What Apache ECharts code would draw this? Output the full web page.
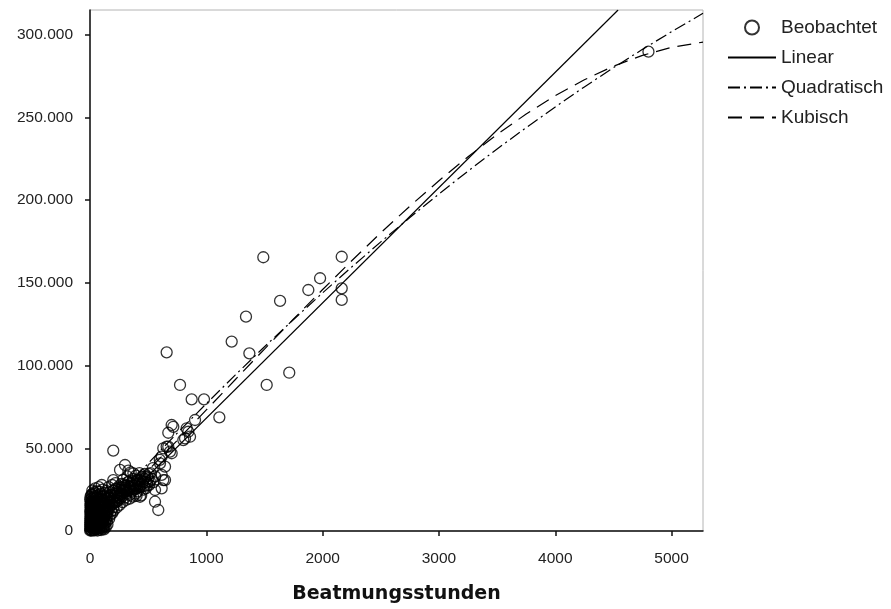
<!DOCTYPE html>
<html>
<head>
<meta charset="utf-8">
<title>Beatmungsstunden</title>
<script src="https://cdn.jsdelivr.net/npm/echarts@6/dist/echarts.min.js"></script>
<style>
  html, body { margin: 0; padding: 0; background: #fff; }
  #chart { width: 891px; height: 609px; }
</style>
</head>
<body>
<div id="chart"></div>
<script>
// Axis ranges and tick positions
const xMax = 5270;
const yMax = 315000;
const xTicks = [0, 1000, 2000, 3000, 4000, 5000];
const yTicks = [0, 50000, 100000, 150000, 200000, 250000, 300000];

// Observed cases [Beatmungsstunden, Kosten] - dense group near the origin
const obsLow = [
  [1,300],[2,1200],[3,2500],[1,3800],[4,5100],[2,6400],[5,7600],[3,8900],[6,10200],[2,11500],[4,12800],[7,14000],[3,15300],[5,16600],[8,17800],[1,19000],
  [9,500],[11,1800],[10,3100],[12,4400],[9,5700],[13,7000],[11,8300],[14,9600],[10,10900],[12,12200],[15,13500],[13,14800],[11,16100],[16,17400],[14,19500],
  [18,200],[20,1500],[19,2800],[22,4100],[21,5400],[17,6700],[23,8000],[20,9300],[24,10600],[19,11900],[22,13200],[25,14500],[21,15800],[26,17100],[23,18600],[28,20200],
  [28,700],[30,2000],[32,3300],[29,4600],[31,5900],[34,7200],[30,8500],[33,9800],[35,11100],[31,12400],[36,13700],[34,15000],[32,16300],[37,17600],[39,21200],
  [40,400],[42,1700],[39,3000],[44,4300],[41,5600],[45,6900],[43,8200],[46,9500],[42,10800],[47,12100],[44,13400],[48,14700],[46,16000],[49,17500],[52,19800],
  [52,1100],[55,2400],[53,3700],[57,5000],[54,6300],[58,7600],[56,8900],[60,10200],[55,11500],[61,12800],[58,14100],[62,15400],[65,17000],[68,21500],
  [65,300],[67,1600],[70,2900],[66,4200],[71,5500],[69,6800],[73,8100],[70,9400],[75,10700],[72,12000],[77,13300],[74,14600],[79,16200],[82,18800],
  [80,900],[83,2200],[78,3500],[85,4800],[82,6100],[87,7400],[84,8700],[89,10000],[86,11300],[92,12600],[88,13900],[95,15700],[98,17800],[102,20500],
  [95,600],[98,1900],[93,3200],[100,4500],[97,5800],[103,7100],[99,8400],[106,9700],[102,11000],[108,12300],[112,14200],[115,16500],
  [110,1400],[113,2700],[117,4000],[111,5300],[119,6600],[115,7900],[122,9200],[118,10500],[125,11800],[130,13600],[135,15800],[128,18200],
  [125,3000],[132,5000],[138,6800],[130,8600],[145,8300],[140,10400],[150,10900],[148,12800],[160,13000],[155,15000],[170,14800],[165,17200],
  [180,12000],[185,15900],[195,17500],[200,14300],[210,16800],[215,19000],[225,17600],[235,20300],[240,18300],[250,21500],[260,19600],[270,22400],
  [280,21000],[290,23600],[300,20200],[305,25000],[315,22800],[330,24500],[340,21800],[350,26200],[360,23900],[375,27500],[385,25200],[395,22600],
  [410,24000],[420,28000],[430,26500],[440,21500],[455,30000],[465,27200],[480,25800],[490,29200],[500,31800],[510,27900],
  [15,22000],[35,23500],[60,24000],[90,22500],[110,25000],[140,24200],[160,26500],[175,22000],[190,27800],[205,24600],[220,29000],[245,26000],
  [270,28500],[285,31000],[300,27300],[320,33000],[335,29800],[350,35500],[370,31500],[395,33500],[410,30500],[425,35000],[445,32800],[470,34500],
  [490,33000],[520,35000],[530,31500],[545,29500],[560,33000],[540,38000],
  [120,1000],[135,2200],[150,4000],[145,5800],[165,7400],[175,9600],[190,10800],[205,12500],[230,14200],[255,15800],[280,17500],[310,18800],
  [340,19600],[370,20800],[400,21200],[20,24500],[45,25800],[75,26500],
  [150,18500],[160,20500],[170,23500],[175,19800],[185,21800],[195,24200],[200,20000],[210,22600],[220,25500],[228,21300],[238,23500],[248,27000],
  [255,24800],[262,22800],[272,26300],[280,24500],[292,28200],[298,26000],[310,24000],[318,27500],[326,29500],[338,26800],[345,24700],[355,28600],
  [365,30200],[372,26000],[380,29000],[390,27600],[400,25800],[405,31000],[415,28800],[425,26800],[435,30800],[448,28500],[458,25000],[468,31500],
  [478,29500],[495,27500],[505,34500],[515,30000],
  [5,20800],[12,21800],[25,22600],[42,22800],[55,21000],[80,23800],[95,19500],[120,21000],[130,23000],[105,17000],[140,19500],[150,21500],
  [160,16800],[175,18000]
];

// Observed cases between roughly 100 and 1100 hours
const obsMid = [
  [101,27800],[200,30800],[200,48600],[258,36900],[301,39900],[330,36500],[373,34900],[473,32800],
  [602,40900],[645,38900],[616,33900],[630,30800],[645,30800],[616,25800],[559,24800],[430,20700],
  [559,17700],[587,12700],[630,50000],[673,51000],[702,47000],[659,51000],[688,48000],[616,45000],
  [600,43000],[673,59400],[702,64100],[716,63000],[831,62100],[802,55000],[817,56000],[845,60000],
  [860,57000],[903,67100],[874,79600],[980,79600],[1112,68700],[774,88300],[659,108000]
];

// Observed cases above 1100 hours
const obsHigh = [
  [1218,114500],[1370,107400],[1341,129600],[1490,165500],[1519,88300],[1634,139100],[1713,95700],
  [1877,145700],[1978,152800],[2164,165800],[2164,146700],[2164,139700],[4801,289800]
];

// Fitted curves
const linHours = [0, 4540];
const linCost = [-1500, 315000];
const curveHours = [0,250,500,750,1000,1250,1500,1750,2000,2250,2500,2750,3000,3250,3500,3750,4000,4250,4500,4750,5000,5270];
const quadCost = [2900,22100,40900,59200,77000,94400,111400,127900,144000,159600,174800,189500,203800,217600,231000,243900,256400,268500,280100,291200,301900,313000];
const cubicCost = [1000,18600,36600,54800,73200,91600,110000,128200,146000,163400,180300,196400,211800,226300,239800,252100,263200,272800,281000,287600,292400,295600];

const zip = (xs, ys) => xs.map((x, i) => [x, ys[i]]);
const observed = obsLow.concat(obsMid, obsHigh);

function thousands(v) {
  return String(v).replace(/\B(?=(\d{3})+(?!\d))/g, '.');
}

const labelFont = 'Liberation Sans';
const titleFont = 'DejaVu Sans';
const axisLineStyle = { color: '#111', width: 1.5 };
const noMarker = { opacity: 0 };

const chart = echarts.init(document.getElementById('chart'), null, { renderer: 'canvas' });
chart.setOption({
  animation: false,
  backgroundColor: '#fff',
  color: ['#000', '#000', '#000', '#000'],
  grid: {
    left: 90, right: 188, top: 10, bottom: 78,
    show: true, borderColor: '#b4b4b4', borderWidth: 1, backgroundColor: '#fff'
  },
  legend: {
    orient: 'vertical',
    left: 727, top: 18, padding: 0,
    itemWidth: 48, itemHeight: 14, itemGap: 11,
    textStyle: { fontFamily: labelFont, fontSize: 19, color: '#222', lineHeight: 18 },
    data: [
      { name: 'Beobachtet' },
      { name: 'Linear', itemStyle: noMarker },
      { name: 'Quadratisch', itemStyle: noMarker },
      { name: 'Kubisch', itemStyle: noMarker }
    ]
  },
  xAxis: {
    type: 'value', min: 0, max: xMax,
    name: 'Beatmungsstunden', nameLocation: 'middle', nameGap: 54,
    nameTextStyle: { fontFamily: titleFont, fontSize: 19, fontWeight: 'bold', color: '#111' },
    axisLine: { show: true, onZero: false, lineStyle: axisLineStyle },
    axisTick: { show: true, inside: false, length: 5, lineStyle: axisLineStyle, customValues: xTicks },
    axisLabel: { margin: 20, fontFamily: labelFont, fontSize: 15.5, color: '#222', customValues: xTicks,
      formatter: v => String(v) },
    splitLine: { show: false }
  },
  yAxis: {
    type: 'value', min: 0, max: yMax,
    axisLine: { show: true, onZero: false, lineStyle: axisLineStyle },
    axisTick: { show: true, inside: false, length: 5, lineStyle: axisLineStyle, customValues: yTicks },
    axisLabel: { margin: 17, fontFamily: labelFont, fontSize: 15.5, color: '#222', customValues: yTicks,
      formatter: v => thousands(v) },
    splitLine: { show: false }
  },
  series: [
    {
      name: 'Beobachtet', type: 'scatter', symbol: 'circle', symbolSize: 11,
      itemStyle: { color: 'rgba(255,255,255,0)', borderColor: '#000', borderWidth: 1.3 },
      data: observed
    },
    {
      name: 'Linear', type: 'line', symbol: 'none', clip: true,
      itemStyle: { color: '#000' },
      lineStyle: { color: '#000', width: 1.2, type: 'solid' },
      data: zip(linHours, linCost)
    },
    {
      name: 'Quadratisch', type: 'line', symbol: 'none', clip: true,
      itemStyle: { color: '#000' },
      lineStyle: { color: '#000', width: 1.2, type: [12, 4, 2, 4] },
      data: zip(curveHours, quadCost)
    },
    {
      name: 'Kubisch', type: 'line', symbol: 'none', clip: true,
      itemStyle: { color: '#000' },
      lineStyle: { color: '#000', width: 1.2, type: [14, 8] },
      data: zip(curveHours, cubicCost)
    }
  ]
});
</script>
</body>
</html>
